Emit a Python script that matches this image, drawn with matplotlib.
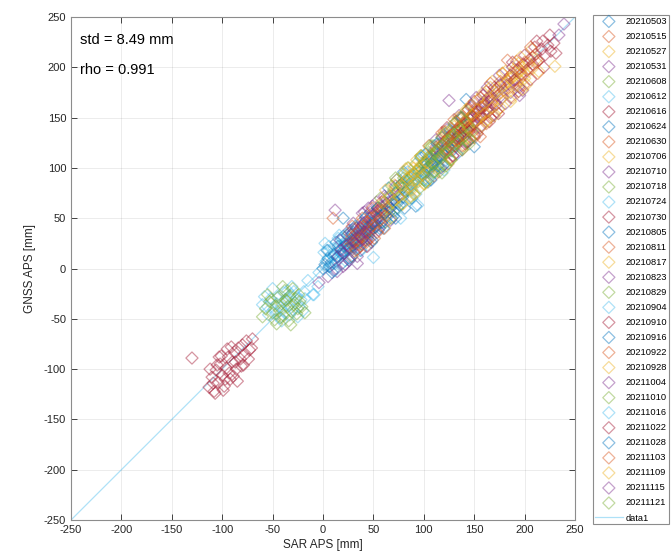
import numpy as np
import matplotlib
matplotlib.use("Agg")
from matplotlib import pyplot as plt

## 日期（图例中的标签）
dates = ["20210503", "20210515", "20210527", "20210531", "20210608",
         "20210612", "20210616", "20210624", "20210630", "20210706",
         "20210710", "20210718", "20210724", "20210730", "20210805",
         "20210811", "20210817", "20210823", "20210829", "20210904",
         "20210910", "20210916", "20210922", "20210928", "20211004",
         "20211010", "20211016", "20211022", "20211028", "20211103",
         "20211109", "20211115", "20211121"]

## 每个日期的 SAR APS (x) 与 GNSS APS (y)，单位 mm
sar = [
    [62, 65, 69, 72, 75, 79, 82, 86, 89, 92, 95, 99, 103, 107, 110, 84, 77, 142],
    [101, 104, 108, 111, 114, 117, 120, 123, 126, 129, 132, 135, 139, 143, 147, 112, 125, 156],
    [166, 170, 173, 177, 180, 183, 186, 189, 192, 195, 198, 201, 204, 208, 212, 176, 183, 190],
    [28, 31, 34, 36, 38, 40, 42, 44, 46, 48, 50, 52, 55, 58, 61, 45, 39, 12, 34],
    [70, 73, 76, 79, 82, 85, 88, 91, 94, 97, 100, 103, 106, 109, 113, 87, 96, 118],
    [-19, -9, 1, 4, 8, 11, 14, 17, 20, 23, 26, 29, 12, 18, 6, 27],
    [121, 124, 127, 130, 133, 136, 139, 142, 145, 148, 151, 154, 157, 160, 164, 135, 147],
    [18, 21, 24, 27, 30, 33, 36, 39, 42, 45, 48, 51, 29, 38, 20, 44],
    [24, 27, 30, 32, 34, 36, 38, 40, 42, 44, 46, 49, 52, 35, 41, 10, 31],
    [80, 83, 86, 89, 92, 95, 98, 101, 104, 107, 110, 113, 116, 119, 123, 90, 105],
    [110, 113, 116, 119, 122, 125, 128, 131, 134, 137, 140, 143, 146, 149, 118, 132, 125],
    [55, 58, 61, 64, 67, 70, 73, 76, 79, 82, 85, 88, 91, 94, 66, 80, 100],
    [82, 86, 90, 95, 99, 103, 108, 112, 116, 121, 125, 77, 94, 50, 102, 118],
    [186, 190, 193, 196, 199, 202, 205, 208, 211, 214, 217, 220, 223, 226, 229, 210, 218],
    [100, 104, 108, 112, 116, 120, 124, 128, 132, 136, 140, 150, 114, 128],
    [164, 167, 170, 173, 176, 179, 182, 185, 188, 191, 194, 197, 200, 204, 208, 212, 183, 176, 195],
    [120, 123, 126, 129, 132, 135, 138, 141, 144, 147, 150, 153, 156, 159, 163, 130, 142],
    [38, 40, 42, 44, 46, 48, 50, 52, 54, 56, 58, 60, 63, 66, 70, 74, 47, 53, 5, 14, 20],
    [95, 98, 101, 104, 107, 110, 113, 116, 119, 122, 125, 128, 131, 135, 139, 110, 126, 145],
    [-60, -55, -52, -49, -46, -44, -42, -40, -38, -36, -34, -32, -30, -28, -26, -24, -22, -47, -39, -33, -29, -43, -20, -10],
    [134, 137, 140, 143, 146, 149, 152, 155, 158, 161, 164, 168, 172, 145, 157],
    [40, 43, 46, 49, 52, 55, 58, 61, 64, 67, 70, 73, 76, 79, 56, 68],
    [118, 121, 124, 127, 130, 133, 136, 139, 142, 145, 148, 151, 154, 157, 160, 164, 131, 150],
    [60, 63, 66, 69, 72, 75, 78, 81, 84, 87, 90, 93, 96, 99, 103, 71, 88],
    [150, 154, 158, 162, 166, 170, 174, 178, 182, 186, 190, 194, 239, 234, 198, 160, 176],
    [-57, -53, -50, -47, -45, -43, -41, -39, -37, -35, -33, -31, -29, -27, -25, -23, -21, -48, -38, -34, -30, -42, -26, -36],
    [3, 7, 10, 13, 16, 19, 22, 25, 28, 31, 34, 37, 40, 43, -4, 24],
    [-113, -110, -108, -106, -104, -102, -100, -98, -96, -94, -92, -90, -88, -86, -84, -82, -80, -78, -76, -73,
     -70, -105, -99, -93, -87, -81, -101, -95, -89, -130],
    [0, 2, 5, 8, 11, 14, 17, 20, 23, 26, 29, 32, 15],
    [28, 30, 32, 34, 36, 38, 40, 42, 44, 46, 48, 50, 53, 56, 59, 62, 37, 45],
    [140, 144, 148, 152, 156, 160, 164, 168, 172, 176, 180, 184, 188, 192, 196, 200, 230, 162],
    [15, 18, 21, 24, 27, 30, 33, 36, 39, 42, 45, 26, -4, 30],
    [104, 108, 112, 116, 120, 124, 128, 132, 136, 140, 144, 148, 122, 137],
]
gnss = [
    [58, 66, 64, 75, 71, 80, 77, 90, 85, 62, 96, 93, 104, 100, 112, 80, 83, 168],
    [106, 99, 112, 108, 118, 113, 125, 119, 131, 124, 137, 130, 142, 138, 150, 121, 116, 131],
    [172, 168, 180, 175, 184, 179, 190, 185, 194, 188, 200, 193, 204, 199, 208, 160, 186, 198],
    [24, 30, 29, 36, 33, 40, 37, 45, 41, 47, 44, 52, 50, 57, 55, 38, 43, 58, 5],
    [78, 74, 83, 80, 88, 84, 93, 89, 97, 92, 104, 98, 110, 103, 114, 79, 101, 95],
    [-23, -26, 16, 8, 14, 20, 12, 22, 18, 27, 24, 28, 5, 30, 22, 19],
    [126, 121, 133, 128, 137, 132, 144, 139, 149, 143, 155, 150, 160, 154, 166, 127, 152],
    [15, 22, 19, 26, 23, 31, 28, 35, 33, 41, 38, 46, 34, 24, 50, 30],
    [20, 26, 22, 29, 27, 34, 30, 37, 33, 40, 36, 44, 41, 24, 28, 50, 17],
    [86, 81, 92, 87, 97, 91, 104, 97, 110, 103, 115, 109, 122, 114, 127, 100, 96],
    [117, 111, 124, 117, 128, 121, 134, 127, 140, 133, 146, 139, 151, 144, 130, 122, 167],
    [60, 55, 66, 60, 72, 66, 77, 71, 83, 76, 88, 82, 94, 86, 56, 90, 88],
    [78, 83, 86, 90, 94, 99, 103, 106, 111, 115, 120, 50, 63, 11, 88, 104],
    [192, 187, 197, 193, 203, 197, 208, 203, 213, 207, 218, 212, 222, 216, 224, 220, 226],
    [95, 101, 104, 109, 112, 116, 121, 124, 129, 132, 136, 121, 102, 117],
    [170, 165, 177, 172, 182, 177, 188, 183, 194, 188, 199, 193, 205, 199, 210, 205, 207, 186, 180],
    [115, 127, 122, 133, 127, 139, 133, 145, 139, 152, 146, 158, 151, 163, 158, 141, 129],
    [42, 37, 46, 41, 50, 45, 54, 48, 57, 52, 61, 55, 65, 60, 69, 72, 56, 43, -8, -3, 2],
    [99, 94, 105, 100, 110, 104, 116, 110, 122, 115, 128, 121, 134, 127, 140, 96, 136, 124],
    [-36, -38, -30, -41, -35, -28, -39, -33, -44, -30, -37, -26, -41, -34, -29, -38, -31, -45, -24, -46, -23, -49, -42, -26],
    [132, 140, 137, 146, 141, 151, 146, 157, 151, 162, 156, 168, 163, 136, 160],
    [33, 39, 37, 44, 41, 49, 46, 55, 52, 60, 57, 66, 63, 71, 40, 50],
    [123, 118, 130, 124, 135, 129, 141, 134, 146, 139, 152, 145, 157, 150, 162, 156, 122, 158],
    [66, 61, 72, 66, 78, 71, 83, 77, 89, 82, 94, 87, 100, 93, 105, 83, 78],
    [156, 152, 163, 158, 170, 164, 176, 170, 182, 175, 188, 181, 243, 232, 177, 166, 183],
    [-40, -33, -44, -37, -29, -42, -35, -47, -31, -38, -27, -43, -36, -30, -40, -33, -38, -51, -22, -52, -20, -49, -45, -32],
    [7, 2, 12, 9, 17, 13, 24, 18, 29, 23, 33, 28, 38, 32, -4, 35],
    [-118, -108, -122, -101, -113, -95, -106, -117, -99, -88, -110, -93, -83, -100, -79, -90, -76, -86, -72, -81,
     -70, -96, -121, -104, -93, -97, -87, -80, -107, -89],
    [0, 4, 10, 6, 14, 11, 19, 15, 24, 20, 28, 25, 22],
    [30, 25, 34, 28, 38, 31, 42, 35, 46, 39, 50, 43, 54, 48, 58, 52, 22, 29],
    [146, 141, 153, 147, 161, 154, 168, 160, 175, 168, 182, 175, 190, 182, 196, 189, 201, 147],
    [12, 18, 15, 23, 20, 27, 24, 32, 29, 36, 33, 8, -14, 39],
    [110, 105, 117, 111, 124, 117, 131, 124, 137, 131, 143, 137, 102, 150],
]

## 每个日期偏离 1:1 线较远的点（读图补充）
sar_extra = [
    [65, 70, 80, 88, 97, 104, 73, 58],
    [105, 110, 118, 124, 130, 138, 144, 150],
    [168, 174, 181, 188, 196, 202, 207, 214],
    [30, 35, 41, 47, 53, 57, 26, 62],
    [72, 78, 84, 90, 98, 104, 110, 115],
    [2, 10, 16, 22, 28, -15, -5, 33],
    [123, 129, 138, 144, 150, 156, 162, 166],
    [20, 26, 32, 37, 43, 49, 54, 30],
    [26, 29, 37, 43, 48, 51, 33, 55],
    [82, 87, 93, 100, 106, 112, 118, 121],
    [112, 117, 123, 129, 135, 141, 147, 150],
    [57, 62, 68, 74, 80, 86, 92, 96],
    [84, 92, 100, 106, 114, 120, 127, 110],
    [188, 194, 200, 206, 212, 219, 225, 231],
    [102, 107, 113, 119, 126, 133, 138, 143],
    [166, 172, 178, 186, 192, 199, 206, 213],
    [122, 127, 134, 140, 146, 152, 158, 162],
    [39, 43, 49, 55, 61, 67, 72, 45],
    [97, 102, 108, 115, 121, 127, 133, 138],
    [-58, -50, -41, -31, -25, -18, -54, -35],
    [136, 141, 147, 153, 159, 165, 170, 174],
    [42, 48, 54, 60, 66, 72, 78, 81],
    [120, 126, 132, 138, 144, 150, 156, 162],
    [62, 67, 73, 79, 85, 91, 97, 101],
    [152, 157, 163, 169, 175, 181, 188, 195],
    [-60, -55, -46, -40, -32, -24, -18, -51],
    [5, 12, 18, 26, 33, 38, 44, 15],
    [-112, -107, -103, -97, -91, -85, -79, -74, -71, -109],
    [4, 9, 13, 19, 24, 28, 33, 6],
    [29, 33, 39, 43, 49, 54, 58, 61],
    [142, 146, 154, 158, 166, 170, 178, 186, 194, 198],
    [17, 22, 28, 34, 40, 44, 13, 37],
    [106, 110, 118, 126, 130, 138, 142, 146],
]
gnss_extra = [
    [80, 52, 96, 70, 110, 86, 88, 45],
    [122, 92, 135, 104, 148, 118, 158, 130],
    [186, 158, 196, 170, 210, 183, 218, 196],
    [45, 20, 56, 30, 66, 42, 38, 70],
    [90, 64, 100, 74, 112, 88, 122, 100],
    [25, -2, 33, 8, 38, -12, -18, 20],
    [140, 112, 150, 126, 166, 140, 176, 150],
    [32, 10, 42, 18, 52, 28, 60, 36],
    [35, 12, 45, 22, 54, 30, 40, 58],
    [99, 72, 108, 84, 120, 96, 132, 104],
    [128, 100, 138, 112, 152, 126, 160, 133],
    [70, 46, 82, 60, 94, 70, 104, 80],
    [96, 74, 112, 90, 124, 98, 134, 95],
    [205, 176, 212, 188, 226, 200, 232, 214],
    [114, 88, 124, 102, 138, 114, 150, 126],
    [184, 156, 194, 170, 206, 182, 220, 194],
    [136, 108, 150, 122, 162, 134, 174, 146],
    [55, 28, 62, 38, 72, 48, 82, 60],
    [112, 86, 122, 96, 134, 108, 146, 120],
    [-28, -20, -52, -18, -48, -30, -46, -22],
    [150, 124, 162, 134, 172, 146, 180, 154],
    [50, 26, 60, 40, 72, 50, 84, 60],
    [136, 110, 146, 122, 158, 132, 170, 144],
    [78, 50, 88, 64, 100, 74, 112, 84],
    [170, 142, 180, 152, 192, 164, 200, 172],
    [-48, -26, -55, -18, -56, -26, -44, -31],
    [18, -2, 28, 8, 42, 18, 48, 30],
    [-100, -124, -88, -110, -78, -112, -96, -90, -79, -114],
    [18, -4, 26, 5, 33, 12, 40, 2],
    [42, 18, 50, 26, 60, 36, 66, 40],
    [158, 130, 168, 142, 180, 152, 194, 166, 204, 178],
    [28, 4, 34, 12, 45, 22, 0, 40],
    [122, 96, 130, 108, 144, 118, 156, 128],
]

## 1:1 参考线
ref_line = [-250, 250]

## MATLAB 默认配色
colors = [(0, 0.447, 0.741), (0.850, 0.325, 0.098), (0.929, 0.694, 0.125),
          (0.494, 0.184, 0.556), (0.466, 0.674, 0.188), (0.301, 0.745, 0.933),
          (0.635, 0.078, 0.184)]

plt.rcParams['font.family'] = ['Liberation Sans', 'DejaVu Sans']
plt.rcParams['axes.unicode_minus'] = False

fig = plt.figure(figsize=(6.71, 5.57), dpi=100)
ax = fig.add_axes([0.1058, 0.0664, 0.7512, 0.9031])

for i, d in enumerate(dates):
    c = colors[i % 7]
    xs = sar[i] + sar_extra[i]
    ys = gnss[i] + gnss_extra[i]
    ax.scatter(xs, ys, s=38, marker='D', facecolors='none',
               edgecolors=[c + (0.45,)], linewidths=0.9, label=d, zorder=2)

ax.plot(ref_line, ref_line, color=colors[5], alpha=0.45, lw=0.9,
        label="data1", zorder=1)

ax.set_xlim(-250, 250)
ax.set_ylim(-250, 250)
ticks = np.arange(-250, 251, 50)
ax.set_xticks(ticks)
ax.set_yticks(ticks)
ax.grid(True, color=(0.15, 0.15, 0.15), alpha=0.1, lw=0.6)
ax.set_axisbelow(True)
ax.tick_params(direction='in', top=True, right=True, length=4,
               labelsize=8, colors=(0.15, 0.15, 0.15), width=0.6)
for sp in ax.spines.values():
    sp.set_color((0.55, 0.55, 0.55))
    sp.set_linewidth(0.8)
ax.set_xlabel("SAR APS [mm]", fontsize=8.5, color=(0.15, 0.15, 0.15), labelpad=3)
ax.set_ylabel("GNSS APS [mm]", fontsize=8.5, color=(0.15, 0.15, 0.15), labelpad=6)

ax.text(0.018, 0.955, "std = 8.49 mm", transform=ax.transAxes, fontsize=10.5, va='center')
ax.text(0.018, 0.895, "rho = 0.991", transform=ax.transAxes, fontsize=10.5, va='center')

leg = fig.legend(loc='upper left', bbox_to_anchor=(0.8838, 0.973), fontsize=6.7,
                 scatterpoints=1, labelspacing=0.65, handlelength=3.0,
                 handletextpad=0.3, borderpad=0.2, borderaxespad=0.0,
                 fancybox=False, edgecolor=(0.55, 0.55, 0.55), framealpha=1)
leg.get_frame().set_linewidth(0.8)

fig.savefig("out.png", dpi=100)
